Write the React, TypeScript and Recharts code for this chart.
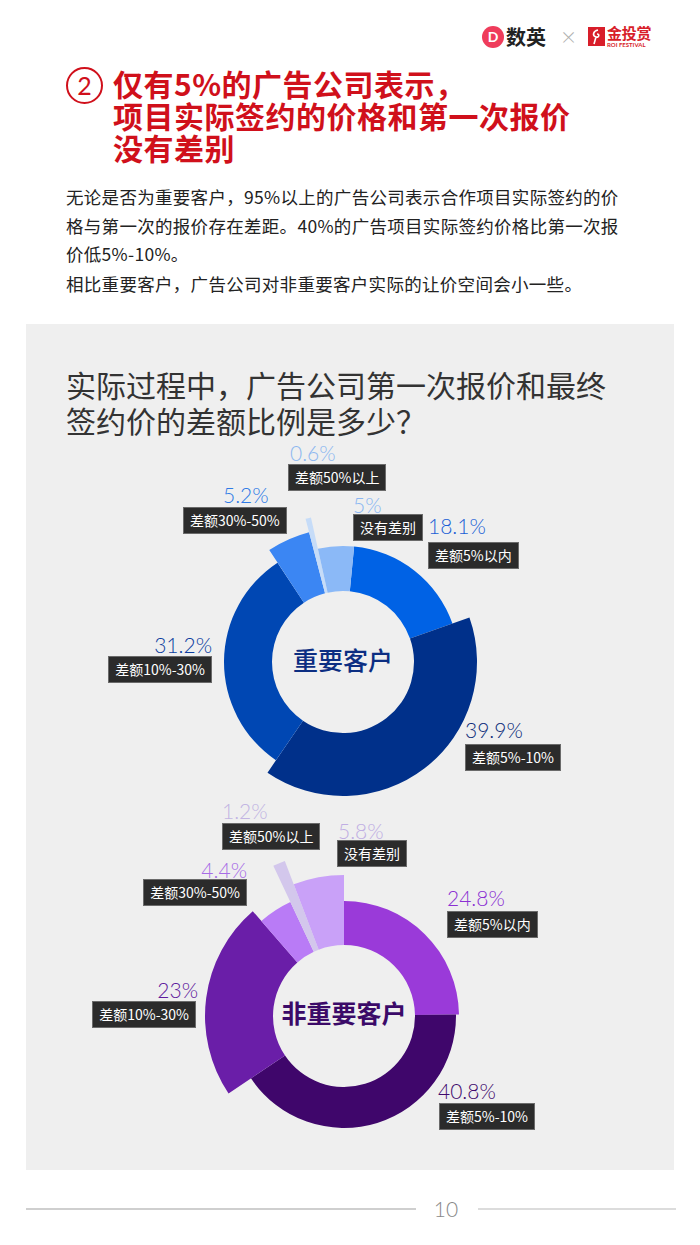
import React from 'react';
import { PieChart, Pie, Cell } from 'recharts';

// slice order: clockwise from the start angle
const categories = ['差额5%以内', '差额5%-10%', '差额10%-30%', '差额30%-50%', '差额50%以上', '没有差别'];
const keyClientValues = [18.1, 39.9, 31.2, 5.2, 0.6, 5];
const otherClientValues = [24.8, 40.8, 23, 4.4, 1.2, 5.8];

const keyColors = ['#0062e5', '#00308a', '#0047b3', '#3b86f3', '#c6dcf8', '#8bb9f7'];
const keyTextColors = ['#1a5fd6', '#0d2d7a', '#0d3e9f', '#2f7be6', '#8db7ef', '#8bb7f2'];
const otherColors = ['#9a3ad9', '#3f066b', '#6a1ea8', '#b97bf6', '#d3c7ec', '#c9a1f8'];
const otherTextColors = ['#8b30d3', '#3f0a6d', '#5f1b9d', '#a76ce6', '#c2b5e3', '#c0aee3'];

// each slice has its own outer radius
const keyRadii = [116, 134, 119, 134, 148, 116];
const otherRadii = [115, 112, 139, 126, 166, 141];

// label placement (page px): percent text x/y, box x/y, right = anchored on right edge
const keyLabelPos = [
  { px: 428, py: 515, bx: 428, by: 542, right: false },
  { px: 465, py: 719, bx: 465, by: 744, right: false },
  { px: 212, py: 634, bx: 212, by: 656, right: true },
  { px: 223, py: 484, bx: 183, by: 507, right: false },
  { px: 290, py: 442, bx: 288, by: 464, right: false },
  { px: 353, py: 494, bx: 353, by: 514, right: false },
];
const otherLabelPos = [
  { px: 447, py: 887, bx: 447, by: 911, right: false },
  { px: 438, py: 1080, bx: 439, by: 1103, right: false },
  { px: 198, py: 979, bx: 196, by: 1001, right: true },
  { px: 247, py: 859, bx: 247, by: 879, right: true },
  { px: 222, py: 800, bx: 222, by: 823, right: false },
  { px: 338, py: 820, bx: 337, by: 840, right: false },
];

const CJK = '"Noto Sans CJK SC", "Noto Sans", sans-serif';
const NUM = 'Lato, "Open Sans", sans-serif';

function RoseDonut({ values, colors, radii, top, height, cx, cy, startAngle }: any) {
  const rows = categories.map((name, i) => ({ name, value: values[i] }));
  return (
    <div style={{ position: 'absolute', left: 0, top }}>
      <PieChart width={700} height={height} margin={{ top: 0, right: 0, bottom: 0, left: 0 }}>
        {radii.map((r: number, k: number) => (
          <Pie
            key={k}
            data={rows}
            dataKey="value"
            nameKey="name"
            cx={cx}
            cy={cy - top}
            innerRadius={71}
            outerRadius={r}
            startAngle={startAngle}
            endAngle={startAngle - 360}
            stroke="none"
            isAnimationActive={false}
          >
            {rows.map((row, i) => (
              <Cell key={row.name} fill={i === k ? colors[i] : 'none'} />
            ))}
          </Pie>
        ))}
      </PieChart>
    </div>
  );
}

function Labels({ values, textColors, pos }: any) {
  return (
    <>
      {categories.map((c, i) => {
        const p = pos[i];
        const side = p.right ? { right: 700 - p.px } : { left: p.px };
        const boxSide = p.right ? { right: 700 - p.bx } : { left: p.bx };
        return (
          <React.Fragment key={c}>
            <div
              style={{
                position: 'absolute', top: p.py, ...side, fontFamily: NUM, fontWeight: 300,
                fontSize: 21, lineHeight: '22px', color: textColors[i], whiteSpace: 'nowrap',
              }}
            >
              {values[i]}%
            </div>
            <div
              style={{
                position: 'absolute', top: p.by, ...boxSide, height: 25, lineHeight: '25px',
                padding: '0 6px', background: '#2b2b2b', border: '1px solid #6a6a6a',
                color: '#fff', fontFamily: CJK, fontSize: 14, whiteSpace: 'nowrap',
              }}
            >
              {c}
            </div>
          </React.Fragment>
        );
      })}
    </>
  );
}

function Line({ top, children, style }: any) {
  return <div style={{ position: 'absolute', left: 0, top, whiteSpace: 'nowrap', ...style }}>{children}</div>;
}

export default function App() {
  const red = '#d0101b';
  return (
    <div style={{ position: 'absolute', left: 0, top: 0, width: 700, height: 1245, background: '#fff', overflow: 'hidden', fontFamily: CJK }}>
      {/* logos */}
      <div style={{ position: 'absolute', left: 482, top: 26, width: 22, height: 22, borderRadius: 11, background: '#ef3c5b', color: '#fff', fontFamily: NUM, fontWeight: 700, fontSize: 14, lineHeight: '22px', textAlign: 'center' }}>D</div>
      <div style={{ position: 'absolute', left: 506, top: 24, fontSize: 20, fontWeight: 700, color: '#222', lineHeight: '26px' }}>数英</div>
      <div style={{ position: 'absolute', left: 561, top: 20, fontSize: 26, fontWeight: 300, color: '#b0b0b0', fontFamily: NUM, lineHeight: '32px' }}>×</div>
      <div style={{ position: 'absolute', left: 588, top: 27, width: 17, height: 19, background: '#d81e2a' }}>
        <svg width={17} height={19}>
          <path d="M10 3 C5 4 4 9 8 10 C11 11 12 7 9 7 M8 10 L6 17" stroke="#fff" strokeWidth={1.6} fill="none" />
        </svg>
      </div>
      <div style={{ position: 'absolute', left: 607, top: 24, fontSize: 15, fontWeight: 700, color: '#d81e2a', lineHeight: '17px', letterSpacing: -0.3 }}>金投赏</div>
      <div style={{ position: 'absolute', left: 607, top: 41, fontSize: 6, fontWeight: 700, color: '#d81e2a', fontFamily: NUM, lineHeight: '7px' }}>ROI FESTIVAL</div>

      {/* title */}
      <div style={{ position: 'absolute', left: 66, top: 67, width: 33, height: 33, borderRadius: 19, border: `2.5px solid ${red}`, color: red, fontFamily: NUM, fontSize: 25, lineHeight: '33px', textAlign: 'center' }}>2</div>
      <div style={{ position: 'absolute', left: 113, top: 0, color: red, fontSize: 30, fontWeight: 700, lineHeight: '32px', letterSpacing: 0.5 }}>
        <Line top={67}>仅有5%的广告公司表示，</Line>
        <Line top={99}>项目实际签约的价格和第一次报价</Line>
        <Line top={131}>没有差别</Line>
      </div>

      {/* body */}
      <div style={{ position: 'absolute', left: 66, top: 0, color: '#222', fontSize: 17.5, lineHeight: '29px', letterSpacing: 0.3 }}>
        <Line top={182}>无论是否为重要客户，95%以上的广告公司表示合作项目实际签约的价</Line>
        <Line top={211}>格与第一次的报价存在差距。40%的广告项目实际签约价格比第一次报</Line>
        <Line top={239}>价低5%-10%。</Line>
        <Line top={269}>相比重要客户，广告公司对非重要客户实际的让价空间会小一些。</Line>
      </div>

      {/* panel */}
      <div style={{ position: 'absolute', left: 26, top: 324, width: 648, height: 846, background: '#efefef' }} />
      <div style={{ position: 'absolute', left: 66, top: 0, color: '#333', fontSize: 30, fontWeight: 400, lineHeight: '36px' }}>
        <Line top={366}>实际过程中，广告公司第一次报价和最终</Line>
        <Line top={402}>签约价的差额比例是多少？</Line>
      </div>

      <RoseDonut values={keyClientValues} colors={keyColors} radii={keyRadii} top={430} height={380} cx={343} cy={662} startAngle={84.5} />
      <div style={{ position: 'absolute', left: 243, top: 644, width: 200, textAlign: 'center', color: '#0c2e82', fontSize: 25, fontWeight: 500, lineHeight: '30px' }}>重要客户</div>
      <Labels values={keyClientValues} textColors={keyTextColors} pos={keyLabelPos} />

      <RoseDonut values={otherClientValues} colors={otherColors} radii={otherRadii} top={820} height={345} cx={344} cy={1016} startAngle={90} />
      <div style={{ position: 'absolute', left: 244, top: 997, width: 200, textAlign: 'center', color: '#3b0a68', fontSize: 25, fontWeight: 700, lineHeight: '30px' }}>非重要客户</div>
      <Labels values={otherClientValues} textColors={otherTextColors} pos={otherLabelPos} />

      {/* footer */}
      <div style={{ position: 'absolute', left: 26, top: 1208, width: 390, height: 2, background: '#cfcfcf' }} />
      <div style={{ position: 'absolute', left: 416, top: 1196, width: 60, textAlign: 'center', color: '#888', fontFamily: NUM, fontWeight: 300, fontSize: 21, lineHeight: '26px' }}>10</div>
      <div style={{ position: 'absolute', left: 478, top: 1208, width: 198, height: 2, background: '#dcdcdc' }} />
    </div>
  );
}
